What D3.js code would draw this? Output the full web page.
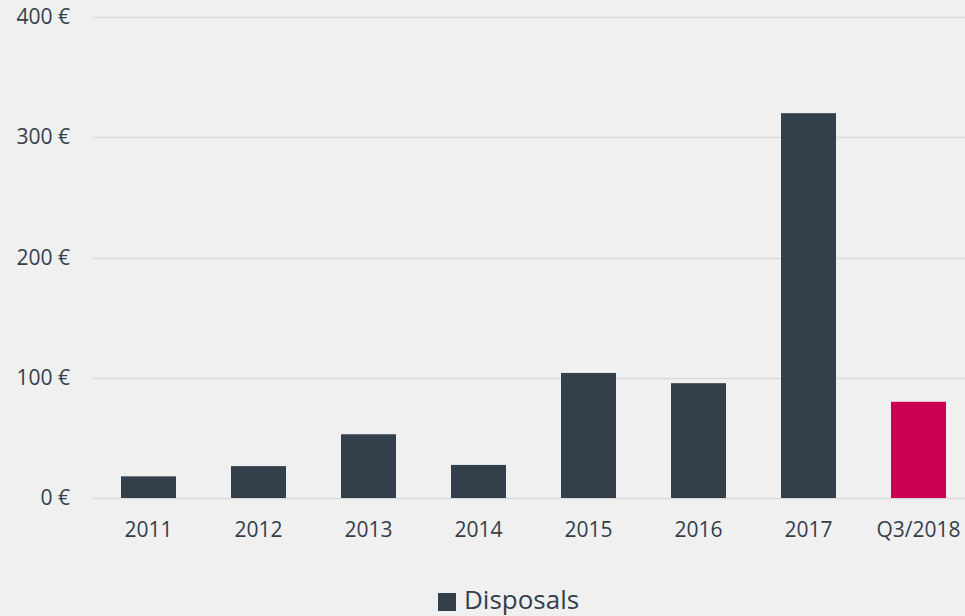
<!DOCTYPE html>
<html>
<head>
<meta charset="utf-8">
<script src="https://cdn.jsdelivr.net/npm/d3@7"></script>
<style>
  html, body { margin: 0; padding: 0; background: #f0f0f0; }
  svg { display: block; }
  text { font-family: "Open Sans", sans-serif; fill: #333f4b; }
</style>
</head>
<body>
<svg id="chart" width="965" height="616"></svg>
<script>
// Disposals per year, in euros
const categories = ["2011", "2012", "2013", "2014", "2015", "2016", "2017", "Q3/2018"];
const disposals = [18, 26.5, 53, 27.5, 104, 95.5, 320, 80];
const highlighted = ["Q3/2018"];
const yTicks = [0, 100, 200, 300, 400];
const seriesName = "Disposals";

const colors = { base: "#333f4a", highlight: "#cc0052", grid: "#d9d9d9" };

const svg = d3.select("#chart");

const x = d3.scaleBand()
  .domain(categories)
  .range([93.5, 973.5])
  .paddingInner(0.5)
  .paddingOuter(0.25);

const y = d3.scaleLinear()
  .domain([0, 400])
  .range([498, 17]);

// horizontal gridlines
svg.append("g")
  .selectAll("line")
  .data(yTicks)
  .join("line")
  .attr("x1", 93)
  .attr("x2", 965)
  .attr("y1", d => Math.round(y(d)) + 0.5)
  .attr("y2", d => Math.round(y(d)) + 0.5)
  .attr("stroke", colors.grid)
  .attr("stroke-width", 1.3);

// y axis labels
const yAxis = d3.axisLeft(y)
  .tickValues(yTicks)
  .tickSize(0)
  .tickPadding(0)
  .tickFormat(d => d + " €");

svg.append("g")
  .attr("transform", "translate(70,0)")
  .call(yAxis)
  .call(g => g.select(".domain").remove())
  .selectAll("text")
  .attr("font-size", 21)
  .attr("font-family", "'Open Sans', sans-serif")
  .attr("fill", "#333f4b");

// bars
const rows = categories.map((c, i) => ({ category: c, value: disposals[i] }));

svg.append("g")
  .selectAll("rect")
  .data(rows)
  .join("rect")
  .attr("x", d => x(d.category))
  .attr("width", x.bandwidth())
  .attr("y", d => y(d.value))
  .attr("height", d => y(0) - y(d.value))
  .attr("fill", d => highlighted.includes(d.category) ? colors.highlight : colors.base);

// x axis labels
const xAxis = d3.axisBottom(x).tickSize(0).tickPadding(0);

svg.append("g")
  .attr("transform", "translate(0,522)")
  .call(xAxis)
  .call(g => g.select(".domain").remove())
  .selectAll("text")
  .attr("font-size", 21)
  .attr("font-family", "'Open Sans', sans-serif")
  .attr("fill", "#333f4b");

// legend
const legend = svg.append("g").attr("transform", "translate(438,593)");
legend.append("rect")
  .attr("width", 18)
  .attr("height", 18)
  .attr("fill", colors.base);
legend.append("text")
  .attr("x", 26)
  .attr("y", 16)
  .attr("font-size", 26)
  .text(seriesName);
</script>
</body>
</html>
